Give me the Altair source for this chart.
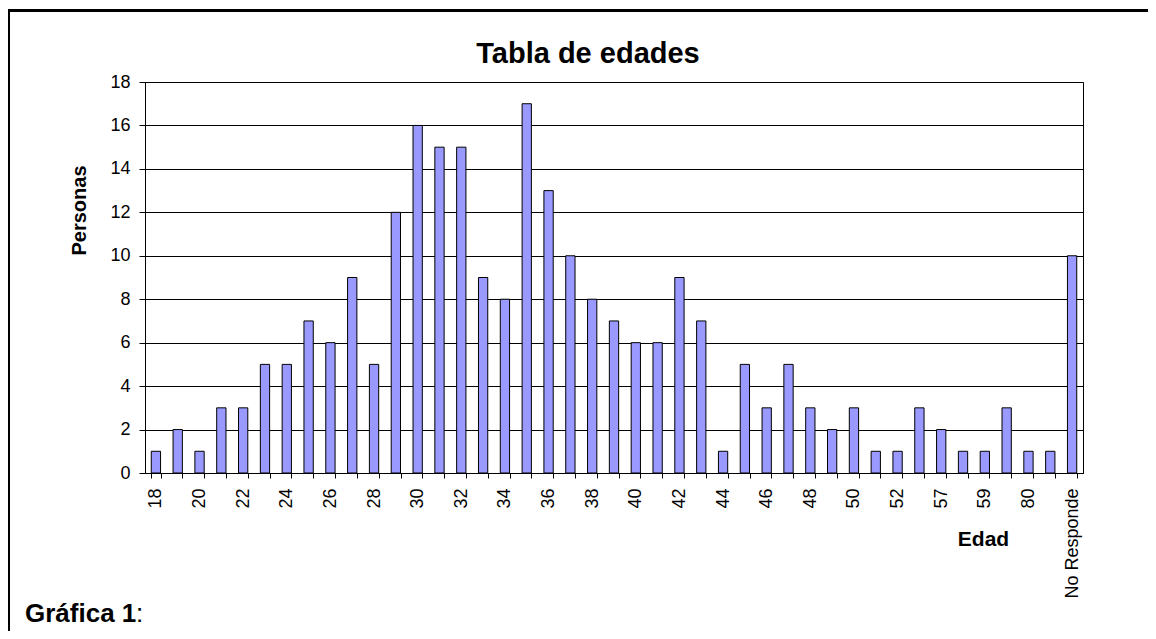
import json
import altair as alt
import pandas as pd

# ---- data ----
categories = [
    "18", "19", "20", "21", "22", "23", "24", "25", "26", "27", "28", "29",
    "30", "31", "32", "33", "34", "35", "36", "37", "38", "39", "40", "41",
    "42", "43", "44", "45", "46", "47", "48", "49", "50", "51", "52", "53",
    "57", "58", "59", "60", "80", "81", "No Responde",
]
personas = [
    1, 2, 1, 3, 3, 5, 5, 7, 6, 9, 5, 12,
    16, 15, 15, 9, 8, 17, 13, 10, 8, 7, 6, 6,
    9, 7, 1, 5, 3, 5, 3, 2, 3, 1, 1, 3,
    2, 1, 1, 3, 1, 1, 10,
]
labeled = categories[::2]
y_ticks = [0, 2, 4, 6, 8, 10, 12, 14, 16, 18]

FONT = "Liberation Sans"
W, H = 938, 391

df = pd.DataFrame({"Edad": categories, "Personas": personas})
one = pd.DataFrame({"k": [0]})

label_expr = "indexof(" + json.dumps(labeled) + ", datum.value) >= 0 ? datum.label : ''"

bars = alt.Chart(df).mark_bar(
    color="#9999FF", stroke="#000000", strokeWidth=1
).encode(
    x=alt.X(
        "Edad:N",
        sort=categories,
        scale=alt.Scale(paddingInner=0.574, paddingOuter=0.287),
        axis=alt.Axis(
            title="Edad",
            labelAngle=270,
            labelAlign="right",
            labelBaseline="middle",
            labelExpr=label_expr,
            labelFont=FONT,
            labelFontSize=18,
            labelColor="#000000",
            labelPadding=10,
            tickBand="extent",
            tickSize=5,
            tickColor="#000000",
            domainColor="#000000",
            grid=False,
            titleFont=FONT,
            titleFontSize=21,
            titleFontWeight="bold",
            titleColor="#000000",
            titleX=838,
            titleY=72,
            titleAlign="center",
            titleBaseline="alphabetic",
        ),
    ),
    y=alt.Y(
        "Personas:Q",
        scale=alt.Scale(domain=[0, 18], nice=False),
        axis=alt.Axis(
            values=y_ticks,
            title="Personas",
            grid=True,
            gridColor="#000000",
            gridWidth=1,
            labelFont=FONT,
            labelFontSize=18,
            labelColor="#000000",
            labelPadding=9,
            tickSize=6,
            tickColor="#000000",
            domainColor="#000000",
            titleFont=FONT,
            titleFontSize=20,
            titleFontWeight="bold",
            titleColor="#000000",
            titleAngle=270,
            titleX=-60,
            titleY=128,
            titleAlign="center",
            titleBaseline="alphabetic",
        ),
    ),
)

title = alt.Chart(one).mark_text(
    text="Tabla de edades", font=FONT, fontSize=29, fontWeight="bold",
    color="#000000", align="center", baseline="alphabetic"
).encode(x=alt.value(443), y=alt.value(-19))

caption = alt.Chart(one).mark_text(
    text="Gráfica 1", font=FONT, fontSize=26, fontWeight="bold",
    color="#000000", align="left", baseline="alphabetic"
).encode(x=alt.value(-120), y=alt.value(540))

caption_colon = alt.Chart(one).mark_text(
    text=":", font=FONT, fontSize=26, color="#000000",
    align="left", baseline="alphabetic"
).encode(x=alt.value(-9), y=alt.value(540))

frame_left = alt.Chart(one).mark_rule(color="#000000", strokeWidth=3).encode(
    x=alt.value(-136.5), y=alt.value(-73), y2=alt.value(600)
)
frame_top = alt.Chart(one).mark_rule(color="#000000", strokeWidth=3).encode(
    x=alt.value(-138), x2=alt.value(1100), y=alt.value(-71.5)
)

chart = alt.layer(
    bars, title, caption, caption_colon, frame_left, frame_top
).properties(
    width=W,
    height=H,
    autosize=alt.AutoSizeParams(type="none"),
    padding={"left": 137, "top": 74, "right": 65, "bottom": 158},
    background="#ffffff",
).configure_view(
    stroke="#000000", strokeWidth=1
)

chart.save("out.html", embed_options={"renderer": "svg", "actions": False})
